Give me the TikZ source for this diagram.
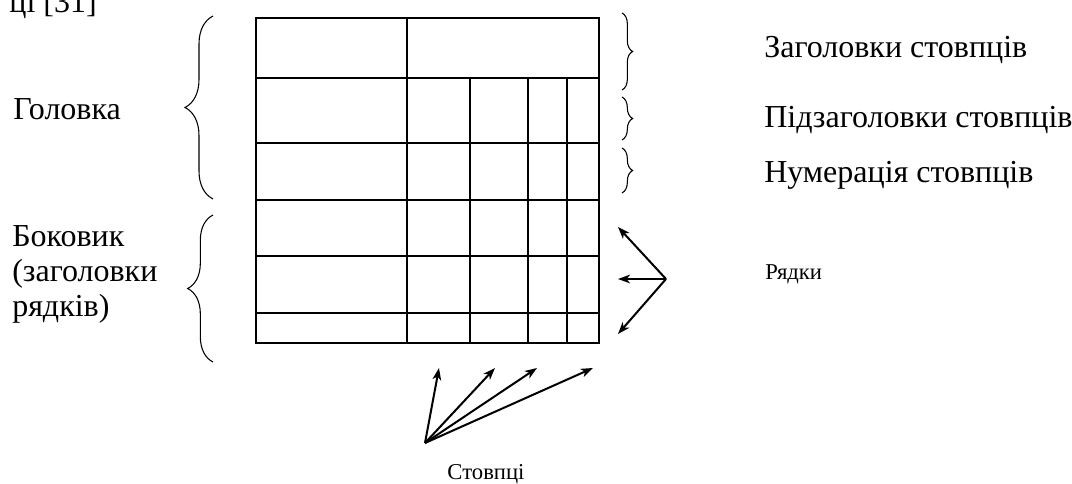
\documentclass[tikz,border=0pt]{standalone}
\usepackage{fontspec}
\setmainfont{Liberation Serif}
\usetikzlibrary{arrows.meta,decorations.pathreplacing}
\begin{document}
\begin{tikzpicture}[x=0.75pt,y=-0.75pt,
  tbl/.style={line width=1.5pt},
  brc/.style={decorate,decoration={brace,amplitude=#1},line width=0.8pt},
  lbl/.style={font=\fontsize{24}{26.25}\selectfont,inner sep=0pt},
  sml/.style={font=\fontsize{17}{19}\selectfont,inner sep=0pt},
  arr/.style={line width=1.5pt,-{Stealth[length=9pt,width=6.5pt,inset=2.5pt]}}]
\useasboundingbox (0,0) rectangle (1072,484);

% table
\draw[tbl] (256,18) rectangle (599,343);
\foreach \y in {78,143,200,256,313} \draw[tbl] (256,\y) -- (599,\y);
\draw[tbl] (407,18) -- (407,343);
\foreach \x in {470,528,567} \draw[tbl] (\x,78) -- (\x,343);

% braces
\draw[brc=21pt] (213,199) -- (213,16);
\draw[brc=19pt] (213,362) -- (213,215);
\draw[brc=8pt] (622,13) -- (622,90);
\draw[brc=8pt] (622,97) -- (622,140);
\draw[brc=8pt] (622,148) -- (622,193);

% labels
\node[lbl,anchor=base east] (ref) at (97,13) {ці [31]};
\node[lbl,anchor=base west] (head) at (13,120) {Головка};
\node[lbl,anchor=base west,align=left] (stub) at (12,317) {Боковик\\(заголовки\\рядків)};
\node[lbl,anchor=base west] (colhead) at (764,58) {Заголовки стовпців};
\node[lbl,anchor=base west] (subhead) at (764,128) {Підзаголовки стовпців};
\node[lbl,anchor=base west] (colnum) at (764,183) {Нумерація стовпців};
\node[sml,anchor=base west] (rows) at (765,280) {Рядки};
\node[sml,anchor=base] (cols) at (486,480) {Стовпці};

% arrows
\coordinate (rowsrc) at (666,279);
\coordinate (r1) at (618,227);
\coordinate (r2) at (618,279);
\coordinate (r3) at (618,334);
\foreach \t in {r1,r2,r3} \draw[arr] (rowsrc) -- (\t);

\coordinate (colsrc) at (425,443);
\coordinate (c1) at (439,368);
\coordinate (c2) at (495,368);
\coordinate (c3) at (537,368);
\coordinate (c4) at (593,368);
\foreach \t in {c1,c2,c3,c4} \draw[arr] (colsrc) -- (\t);
\end{tikzpicture}
\end{document}
